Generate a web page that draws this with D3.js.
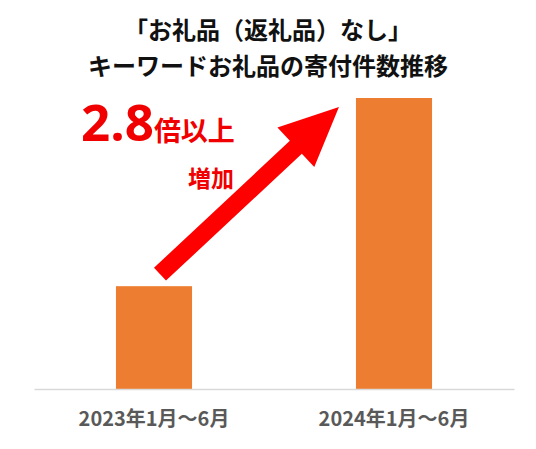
<!DOCTYPE html>
<html><head><meta charset="utf-8">
<script src="https://cdn.jsdelivr.net/npm/d3@7"></script>
<style>
html,body{margin:0;padding:0;background:#fff;}
svg{display:block;font-family:"Noto Sans CJK JP","Noto Sans",sans-serif;}
</style></head>
<body>
<script>
const titleLines = ["「お礼品（返礼品）なし」", "キーワードお礼品の寄付件数推移"];
const categories = ["2023年1月～6月", "2024年1月～6月"];
const values = [100, 283];
const ratioLabel = "2.8";
const ratioSuffix = "倍以上";
const increaseLabel = "増加";

const W = 536, H = 449;
const svg = d3.select("body").append("svg").attr("width", W).attr("height", H);

const x = d3.scaleBand().domain(categories).range([34, 514]).paddingInner(0.683).paddingOuter(0.3415);
const y = d3.scaleLinear().domain([0, d3.max(values)]).range([389, 98]);

// title
svg.append("g").selectAll("text").data(titleLines).join("text")
  .attr("x", 268).attr("y", (d, i) => 39 + i * 36)
  .attr("text-anchor", "middle").attr("font-size", 24).attr("font-weight", 700)
  .attr("fill", "#111").text(d => d);

// bars
svg.append("g").selectAll("rect").data(values).join("rect")
  .attr("x", (d, i) => x(categories[i])).attr("width", x.bandwidth())
  .attr("y", d => y(d)).attr("height", d => y(0) - y(d))
  .attr("fill", "#ED7D31");

// baseline axis
const ax = svg.append("g").attr("transform", `translate(0,${y(0)})`)
  .call(d3.axisBottom(x).tickSize(0).tickPadding(23));
ax.select(".domain").attr("stroke", "#d9d9d9").attr("stroke-width", 1.5);
ax.selectAll("text").attr("font-size", 20).attr("font-weight", 700).attr("fill", "#595959")
  .attr("font-family", "'Noto Sans CJK JP','Noto Sans',sans-serif");

// arrow
const tail = [x(categories[0]) + x.bandwidth() / 2 + 6, y(values[0]) - 12];
const tip = [x(categories[1]) - 17, y(values[1]) + 9];
const dx = tip[0] - tail[0], dy = tip[1] - tail[1];
const L = Math.hypot(dx, dy), ux = dx / L, uy = dy / L, px = -uy, py = ux;
const sw = 8.8, hw = 27, hl = 59;
const bx = tip[0] - ux * hl, by = tip[1] - uy * hl;
const pts = [
  [tail[0] + px * sw, tail[1] + py * sw],
  [bx + px * sw, by + py * sw],
  [bx + px * hw, by + py * hw],
  tip,
  [bx - px * hw, by - py * hw],
  [bx - px * sw, by - py * sw],
  [tail[0] - px * sw, tail[1] - py * sw]
];
svg.append("path").attr("d", d3.line()(pts) + "Z").attr("fill", "#FF0000");

// annotation
const t = svg.append("text").attr("x", 81).attr("y", 141).attr("fill", "#F00000").attr("font-weight", 700);
t.append("tspan").attr("font-size", 51).attr("font-family", "'Open Sans','Noto Sans',sans-serif").text(ratioLabel);
t.append("tspan").attr("font-size", 27).text(ratioSuffix);
svg.append("text").attr("x", 234).attr("y", 187).attr("text-anchor", "end")
  .attr("font-size", 23).attr("font-weight", 700).attr("fill", "#F00000").text(increaseLabel);
</script>
</body></html>
